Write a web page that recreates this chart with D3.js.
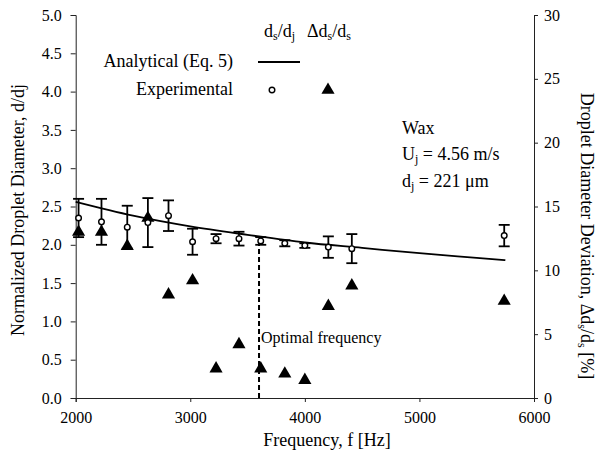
<!DOCTYPE html>
<html><head><meta charset="utf-8">
<script src="https://cdn.jsdelivr.net/npm/d3@7"></script>
<style>body{margin:0;background:#fff}svg{display:block}</style>
</head><body><div id="c"></div>
<script>
// Experimental normalized droplet diameter d_s/d_j
const expFreq = [2025, 2225, 2450, 2630, 2810, 3020, 3225, 3425, 3615, 3825, 4000, 4205, 4410, 5740];
const expRatio = [2.35, 2.30, 2.23, 2.29, 2.38, 2.04, 2.08, 2.08, 2.05, 2.02, 1.99, 1.97, 1.95, 2.12];
const expErr = [0.25, 0.30, 0.28, 0.32, 0.20, 0.17, 0.06, 0.09, 0.05, 0.04, 0.03, 0.14, 0.19, 0.14];
// Droplet diameter deviation [%]
const devPct = [13.0, 13.0, 11.9, 14.1, 8.1, 9.2, 2.3, 4.2, 2.3, 1.9, 1.4, 7.2, 8.8, 7.6];
// Analytical (Eq. 5) curve read points
const anaFreq = [2000, 2500, 3000, 3500, 4000, 4500, 5000, 5500, 5750];
const anaRatio = [2.56, 2.38, 2.24, 2.13, 2.03, 1.96, 1.89, 1.83, 1.80];
const optimalFreq = 3600;
const xTicks = [2000, 3000, 4000, 5000, 6000];
const yTicks = [0, 0.5, 1, 1.5, 2, 2.5, 3, 3.5, 4, 4.5, 5];
const y2Ticks = [0, 5, 10, 15, 20, 25, 30];

const FF = "Liberation Serif";
const W = 606, H = 463;
const L = 75.7, R = 534, T = 15, B = 398;
const svg = d3.select("#c").append("svg").attr("width", W).attr("height", H).attr("font-family", FF);
const x = d3.scaleLinear().domain([2000, 6000]).range([L, R]);
const y = d3.scaleLinear().domain([0, 5]).range([B, T]);
const y2 = d3.scaleLinear().domain([0, 30]).range([B, T]);

const axStyle = g => {
  g.attr("font-size", 16).attr("font-family", FF);
  g.selectAll("path,line").attr("stroke", "#222").attr("stroke-width", 1);
  g.selectAll("text").attr("fill", "#000");
};
svg.append("g").attr("transform", `translate(0,${B})`)
  .call(d3.axisBottom(x).tickValues(xTicks).tickFormat(d3.format("d")).tickSizeOuter(0).tickSize(4).tickPadding(10))
  .call(axStyle);
svg.append("g").attr("transform", `translate(${L},0)`)
  .call(d3.axisLeft(y).tickValues(yTicks).tickFormat(d3.format(".1f")).tickSizeOuter(0).tickSize(5).tickPadding(9))
  .call(axStyle);
svg.append("g").attr("transform", `translate(${R},0)`)
  .call(d3.axisRight(y2).tickValues(y2Ticks).tickFormat(d3.format("d")).tickSizeOuter(0).tickSize(4).tickPadding(6))
  .call(axStyle);

// optimal frequency line
svg.append("line").attr("x1", x(optimalFreq)).attr("x2", x(optimalFreq))
  .attr("y1", y(0)).attr("y2", y(2.02)).attr("stroke", "#000").attr("stroke-width", 2).attr("stroke-dasharray", "5,3");
svg.append("text").attr("x", x(optimalFreq) + 2).attr("y", 343).attr("font-size", 16).text("Optimal frequency");

// analytical line
const line = d3.line().x(d => x(d[0])).y(d => y(d[1])).curve(d3.curveMonotoneX);
svg.append("path").datum(anaFreq.map((f, i) => [f, anaRatio[i]]))
  .attr("d", line).attr("fill", "none").attr("stroke", "#000").attr("stroke-width", 1.8);

// triangles
const tri = d3.symbol().type(d3.symbolTriangle).size(75);
svg.append("g").selectAll("path").data(expFreq).join("path")
  .attr("d", tri).attr("transform", (f, i) => `translate(${x(f)},${y2(devPct[i])})`).attr("fill", "#000");

// error bars + circles
const eg = svg.append("g").attr("stroke", "#000").attr("stroke-width", 1.8).attr("fill", "none");
expFreq.forEach((f, i) => {
  const cx = x(f), y1 = y(expRatio[i] + expErr[i]), y0 = y(expRatio[i] - expErr[i]);
  eg.append("line").attr("x1", cx).attr("x2", cx).attr("y1", y1).attr("y2", y0);
  eg.append("line").attr("x1", cx - 5.5).attr("x2", cx + 5.5).attr("y1", y1).attr("y2", y1);
  eg.append("line").attr("x1", cx - 5.5).attr("x2", cx + 5.5).attr("y1", y0).attr("y2", y0);
});
svg.append("g").selectAll("circle").data(expFreq).join("circle")
  .attr("cx", f => x(f)).attr("cy", (f, i) => y(expRatio[i])).attr("r", 2.8)
  .attr("fill", "#fff").attr("stroke", "#000").attr("stroke-width", 1.4);

// legend
const hd1 = svg.append("text").attr("x", 264).attr("y", 37).attr("font-size", 18);
hd1.append("tspan").text("d");
hd1.append("tspan").text("s").attr("font-size", 12).attr("dy", 3);
hd1.append("tspan").text("/d").attr("dy", -3);
hd1.append("tspan").text("j").attr("font-size", 12).attr("dy", 3);
const hd2 = svg.append("text").attr("x", 307).attr("y", 37).attr("font-size", 18);
hd2.append("tspan").text("\u0394d");
hd2.append("tspan").text("s").attr("font-size", 12).attr("dy", 3);
hd2.append("tspan").text("/d").attr("dy", -3);
hd2.append("tspan").text("s").attr("font-size", 12).attr("dy", 3);
svg.append("text").attr("x", 233).attr("y", 67).attr("font-size", 18).attr("text-anchor", "end").text("Analytical (Eq. 5)");
svg.append("text").attr("x", 233).attr("y", 95).attr("font-size", 18).attr("text-anchor", "end").text("Experimental");
svg.append("line").attr("x1", 258).attr("x2", 300).attr("y1", 62).attr("y2", 62).attr("stroke", "#000").attr("stroke-width", 1.8);
svg.append("circle").attr("cx", 272).attr("cy", 90).attr("r", 2.8).attr("fill", "#fff").attr("stroke", "#000").attr("stroke-width", 1.4);
svg.append("path").attr("d", tri).attr("transform", "translate(328,90)").attr("fill", "#000");

// annotation
svg.append("text").attr("x", 402).attr("y", 134).attr("font-size", 18).text("Wax");
const u = svg.append("text").attr("x", 402).attr("y", 160).attr("font-size", 18);
u.append("tspan").text("U");
u.append("tspan").text("j").attr("font-size", 12).attr("dy", 3);
u.append("tspan").text(" = 4.56 m/s").attr("dy", -3);
const dj = svg.append("text").attr("x", 402).attr("y", 187).attr("font-size", 18);
dj.append("tspan").text("d");
dj.append("tspan").text("j").attr("font-size", 12).attr("dy", 3);
dj.append("tspan").text(" = 221 \u03bcm").attr("dy", -3);

// axis titles
svg.append("text").attr("x", 327).attr("y", 446).attr("text-anchor", "middle").attr("font-size", 18).text("Frequency,  f [Hz]");
svg.append("text").attr("transform", "translate(24,210) rotate(-90)").attr("text-anchor", "middle").attr("font-size", 18)
  .text("Normalized Droplet Diameter,  d/dj");
const rt = svg.append("text").attr("transform", "translate(581,236) rotate(90)").attr("text-anchor", "middle").attr("font-size", 18);
rt.append("tspan").text("Droplet Diameter Deviation,  \u0394d");
rt.append("tspan").text("s").attr("font-size", 12).attr("dy", 3);
rt.append("tspan").text("/d").attr("dy", -3);
rt.append("tspan").text("s").attr("font-size", 12).attr("dy", 3);
rt.append("tspan").text("  [%]").attr("dy", -3);

svg.selectAll("text").attr("font-family", FF).style("font-family", '"Liberation Serif"');
</script></body></html>
